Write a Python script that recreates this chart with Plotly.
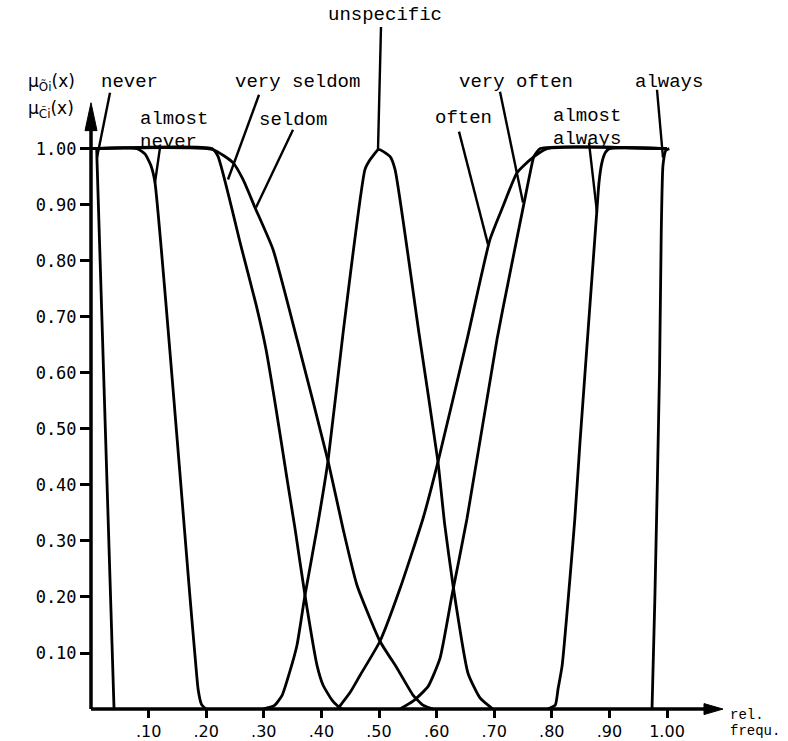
import plotly.graph_objects as go

# ---------------- data ----------------
never_x = [0.0, 0.009, 0.0104, 0.040]
never_y = [1.0, 1.0, 0.98, 0.0]

almost_never_x = [0.0, 0.080, 0.094, 0.104, 0.111, 0.172, 0.181, 0.186, 0.192, 0.200]
almost_never_y = [1.0, 1.0, 0.99, 0.97, 0.94, 0.198, 0.09, 0.035, 0.008, 0.0]

very_seldom_x = [0.0, 0.210, 0.2205, 0.2604, 0.2865, 0.3038, 0.3212, 0.3403, 0.3542, 0.3715, 0.3924, 0.4028, 0.4184, 0.4288, 0.4358]
very_seldom_y = [1.0, 1.0, 0.986, 0.826, 0.722, 0.642, 0.536, 0.411, 0.322, 0.203, 0.078, 0.043, 0.016, 0.005, 0.0]

seldom_x = [0.0, 0.2118, 0.2465, 0.2639, 0.2847, 0.316, 0.3576, 0.4115, 0.4375, 0.4618, 0.5017, 0.5313, 0.559, 0.5764, 0.5938]
seldom_y = [1.0, 0.998, 0.975, 0.945, 0.895, 0.820, 0.660, 0.443, 0.322, 0.221, 0.121, 0.073, 0.025, 0.007, 0.0]

unspecific_x = [0.2986, 0.318, 0.332, 0.3455, 0.3576, 0.3715, 0.3924, 0.4115, 0.4375, 0.4757, 0.4844, 0.4983,
                0.5017, 0.519, 0.5278, 0.5695, 0.6024, 0.614, 0.6285, 0.6545, 0.6753, 0.6979]
unspecific_y = [0.0, 0.006, 0.025, 0.068, 0.114, 0.203, 0.322, 0.443, 0.670, 0.963, 0.980, 0.998,
                0.998, 0.986, 0.963, 0.670, 0.441, 0.330, 0.221, 0.064, 0.020, 0.0]

often_x = [0.428, 0.450, 0.467, 0.5017, 0.5365, 0.5764, 0.6024, 0.653, 0.6927, 0.7153, 0.7396, 0.7622, 0.7917, 1.0]
often_y = [0.0, 0.030, 0.060, 0.121, 0.215, 0.340, 0.441, 0.660, 0.838, 0.897, 0.957, 0.980, 1.0, 1.0]

very_often_x = [0.5365, 0.559, 0.585, 0.606, 0.6267, 0.6528, 0.7049, 0.7253, 0.753, 0.763, 0.769, 0.780, 1.0]
very_often_y = [0.0, 0.014, 0.040, 0.091, 0.203, 0.340, 0.660, 0.767, 0.909, 0.960, 0.986, 1.0, 1.0]

almost_always_x = [0.793, 0.806, 0.811, 0.818, 0.840, 0.849, 0.878, 0.882, 0.887, 0.893, 0.900, 1.0]
almost_always_y = [0.0, 0.007, 0.037, 0.078, 0.340, 0.477, 0.886, 0.940, 0.975, 0.993, 1.0, 1.0]

always_x = [0.974, 0.979, 0.987, 0.990, 0.993, 0.998, 1.004]
always_y = [0.0, 0.20, 0.60, 0.85, 0.97, 0.997, 1.0]

x_tick_vals = [0.1, 0.2, 0.3, 0.4, 0.5, 0.6, 0.7, 0.8, 0.9, 1.0]
x_tick_text = [".10", ".20", ".30", ".40", ".50", ".60", ".70", ".80", ".90", "1.00"]
y_tick_vals = [0.1, 0.2, 0.3, 0.4, 0.5, 0.6, 0.7, 0.8, 0.9, 1.0]
y_tick_text = ["0.10", "0.20", "0.30", "0.40", "0.50", "0.60", "0.70", "0.80", "0.90", "1.00"]

curves = [
    (never_x, never_y), (almost_never_x, almost_never_y),
    (very_seldom_x, very_seldom_y), (seldom_x, seldom_y),
    (unspecific_x, unspecific_y), (often_x, often_y),
    (very_often_x, very_often_y), (almost_always_x, almost_always_y),
    (always_x, always_y),
]

# ---------------- layout geometry ----------------
W, H = 788, 741
X0PX, Y0PX = 91, 711      # pixel of the origin
XS, YS = 576.0, 562.0     # pixels per unit


def dx(px):
    return (px - X0PX) / XS


def dy(py):
    return (Y0PX - py) / YS


fig = go.Figure()
for cx, cy in curves:
    fig.add_trace(go.Scatter(x=cx, y=cy, mode="lines", hoverinfo="skip",
                             line=dict(color="black", width=2.8, shape="spline", smoothing=0.5),
                             showlegend=False))

# leader lines (pixel endpoints of the label pointers)
leaders = [
    ((110, 93), (97, 158)),
    ((160, 148), (155, 183)),
    ((259, 95), (228, 180)),
    ((293, 130), (256, 208)),
    ((381, 27), (378, 150)),
    ((459, 132), (488, 245)),
    ((500, 92), (523, 203)),
    ((589, 143), (597, 213)),
    ((657, 90), (663, 158)),
]
shapes = []
for (a, b) in leaders:
    shapes.append(dict(type="line", xref="x", yref="y", x0=dx(a[0]), y0=dy(a[1]),
                       x1=dx(b[0]), y1=dy(b[1]), line=dict(color="black", width=2.4)))

# axes with arrows
shapes.append(dict(type="line", xref="x", yref="y", x0=0, y0=0, x1=dx(708), y1=0,
                   line=dict(color="black", width=3.5)))
shapes.append(dict(type="line", xref="x", yref="y", x0=0, y0=0, x1=0, y1=dy(126),
                   line=dict(color="black", width=3.5)))
shapes.append(dict(type="path", xref="x", yref="y",
                   path=f"M {dx(723)},{dy(711)} L {dx(704)},{dy(705.5)} L {dx(704)},{dy(716.5)} Z",
                   fillcolor="black", line=dict(color="black", width=1)))
shapes.append(dict(type="path", xref="x", yref="y",
                   path=f"M {dx(91)},{dy(103)} L {dx(85)},{dy(131)} L {dx(97)},{dy(131)} Z",
                   fillcolor="black", line=dict(color="black", width=1)))

labels = [
    ("never", 129, 82, "center"),
    ("almost", 138, 119, "left"),
    ("never", 138, 142, "left"),
    ("very seldom", 297, 82, "center"),
    ("seldom", 257, 120, "left"),
    ("unspecific", 385, 15, "center"),
    ("often", 433, 118, "left"),
    ("very often", 457, 82, "left"),
    ("almost", 551, 116, "left"),
    ("always", 551, 139, "left"),
    ("always", 633, 82, "left"),
]
annotations = []
for txt, px, py, anc in labels:
    annotations.append(dict(text=txt, x=dx(px), y=dy(py), xref="x", yref="y", showarrow=False,
                            xanchor=anc, yanchor="middle",
                            font=dict(family="Liberation Mono", size=19, color="black")))
for txt, py in (("rel.", 717), ("frequ.", 733)):
    annotations.append(dict(text=txt, x=dx(728), y=dy(py), xref="x", yref="y", showarrow=False,
                            xanchor="left", yanchor="middle",
                            font=dict(family="Liberation Mono", size=14, color="black")))
for txt, py in (("μ<sub>Õi</sub>(x)", 83), ("μ<sub>C̃i</sub>(x)", 110)):
    annotations.append(dict(text=txt, x=dx(51), y=dy(py), xref="x", yref="y", showarrow=False,
                            xanchor="center", yanchor="middle",
                            font=dict(family="DejaVu Sans", size=17, color="black")))

fig.update_layout(
    width=W, height=H, autosize=False,
    margin=dict(l=0, r=0, t=0, b=0, pad=0),
    paper_bgcolor="white", plot_bgcolor="white",
    shapes=shapes, annotations=annotations,
    xaxis=dict(range=[dx(0), dx(W)], anchor="free", position=(H - Y0PX) / H,
               showline=False, zeroline=False, showgrid=False,
               ticks="outside", ticklen=8, tickwidth=2.5, tickcolor="black",
               tickvals=x_tick_vals, ticktext=x_tick_text,
               tickfont=dict(family="DejaVu Sans", size=16, color="black")),
    yaxis=dict(range=[dy(H), dy(0)], anchor="free", position=X0PX / W,
               showline=False, zeroline=False, showgrid=False,
               ticks="outside", ticklen=11, tickwidth=2.5, tickcolor="black",
               tickvals=y_tick_vals, ticktext=y_tick_text,
               tickfont=dict(family="DejaVu Sans Mono", size=17, color="black")),
)

fig.write_html("out.html")
